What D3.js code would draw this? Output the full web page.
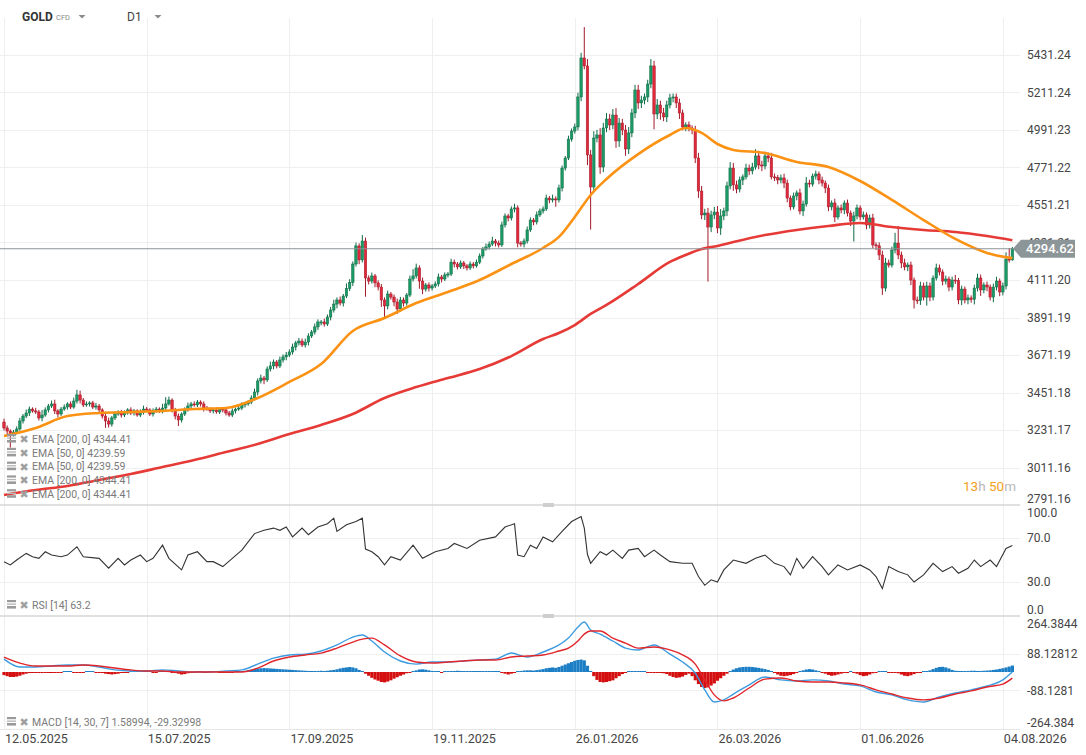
<!DOCTYPE html>
<html>
<head>
<meta charset="utf-8">
<script src="https://cdn.jsdelivr.net/npm/d3@7"></script>
<style>
  body { margin: 0; background: #fff; }
  svg { display: block; font-family: Roboto, "Noto Sans", sans-serif; }
</style>
</head>
<body>
<svg id="chart" width="1086" height="755"></svg>
<script>
// values
const dateLabels = ["12.05.2025", "15.07.2025", "17.09.2025", "19.11.2025", "26.01.2026", "26.03.2026", "01.06.2026", "04.08.2026"];
const dateTickIdx = [0, 45, 90, 135, 180, 225, 270, 315];

const priceTicks = [5431.24, 5211.24, 4991.23, 4771.22, 4551.21, 4331.21, 4111.20, 3891.19, 3671.19, 3451.18, 3231.17, 3011.16, 2791.16];
const rsiTicks = [100, 70, 30, 0];
const macdTickLabels = ["264.3844", "88.12812", "-88.1281", "-264.384"];

const lastPrice = 4294.62;
const firstOpen = 3278;

// daily closes, one per candle
const closes = [
  3243,3225,3208,3219,3237,3284,3313,3331,3354,3343,
  3337,3302,3319,3349,3372,3384,3343,3325,3354,3366,
  3384,3366,3401,3437,3407,3378,3384,3390,3366,3372,
  3349,3313,3284,3266,3302,3325,3337,3319,3331,3349,
  3331,3343,3319,3337,3354,3349,3325,3343,3354,3343,
  3360,3384,3407,3349,3313,3290,3325,3349,3372,3384,
  3378,3395,3384,3360,3354,3343,3349,3337,3354,3349,
  3331,3319,3343,3354,3360,3378,3384,3395,3419,3454,
  3519,3536,3525,3589,3607,3630,3607,3642,3660,3671,
  3689,3718,3742,3753,3730,3747,3783,3806,3836,3865,
  3865,3853,3894,3935,3970,3994,3976,4017,4061,4096,
  4205,4311,4229,4340,4123,4105,4135,4094,4070,3994,
  3959,4029,4011,3982,3941,3994,3976,4023,4117,4135,
  4182,4105,4058,4082,4064,4076,4088,4129,4117,4141,
  4146,4216,4205,4188,4211,4194,4182,4205,4194,4216,
  4252,4293,4305,4322,4340,4328,4317,4434,4487,4475,
  4528,4534,4328,4322,4340,4405,4463,4452,4493,4516,
  4528,4592,4581,4587,4581,4651,4768,4827,4938,4985,
  5009,5185,5414,5367,4845,4657,4944,4962,4774,5003,
  5056,5021,5079,4927,5032,4991,4880,4974,5091,5226,
  5150,5167,5185,5261,5367,5085,5138,5091,5068,5138,
  5179,5185,5150,5091,5009,5021,5003,4991,4827,4633,
  4493,4504,4422,4493,4510,4416,4487,4516,4663,4768,
  4669,4645,4698,4716,4768,4751,4774,4839,4786,4780,
  4839,4827,4716,4712,4698,4710,4680,4592,4540,4604,
  4622,4516,4557,4680,4674,4721,4733,4698,4680,4651,
  4540,4563,4481,4534,4522,4563,4504,4457,4487,4534,
  4481,4493,4434,4475,4317,4312,4258,4064,4211,4199,
  4287,4328,4258,4211,4188,4199,4111,3994,3990,4076,
  4011,4076,4011,4123,4182,4158,4105,4117,4070,4111,
  4108,3994,4058,3994,4006,3998,4064,4123,4053,4082,
  4070,4011,4070,4105,4041,4076,4234,4229,4294.62
];

// wick length above / below the body, price units
const wickUp = [
  20,15,10,12,15,18,12,20,15,10, 18,12,30,15,12,20,25,10,12,15,
  10,15,20,30,25,12,15,10,12,18, 12,10,15,20,12,15,10,12,15,10,
  15,12,10,15,20,12,10,15,12,10, 25,40,20,10,12,15,10,15,20,12,
  15,12,10,15,12,10,12,15,10,12, 10,12,15,10,12,15,12,10,15,20,
  15,20,12,15,25,15,12,20,15,18, 15,20,12,18,15,20,15,12,20,15,
  12,20,15,18,25,15,20,12,30,20, 15,20,15,35,20,15,20,12,15,18,
  15,20,12,15,20,18,15,12,20,40, 25,15,20,12,15,12,15,20,12,15,
  12,20,15,12,15,12,10,15,12,15, 15,12,20,15,25,12,15,20,15,12,
  15,25,15,12,15,20,15,12,20,15, 15,20,12,25,15,20,15,12,20,15,
  20,25,30,181,40,30,40,30,40,30, 35,30,35,40,30,25,30,35,25,30,
  30,25,20,25,40,30,35,25,30,25, 25,20,20,25,20,15,20,15,25,30,
  30,25,30,25,30,35,40,20,25,35, 30,25,20,15,25,20,25,40,30,25,
  25,20,30,20,15,20,25,20,15,20, 15,25,20,35,20,15,20,15,20,15,
  20,15,25,15,20,15,20,15,25,20, 15,20,15,20,25,15,20,25,30,20,
  20,60,100,20,25,15,20,15,20,25, 20,25,20,15,25,20,15,20,15,20,
  30,15,20,15,20,15,20,25,20,15, 20,15,20,25,15,20,40,65,10
];
const wickDn = [
  15,20,80,15,12,10,15,12,18,10, 12,15,20,10,15,12,18,20,12,10,
  15,12,10,15,20,12,10,15,12,15, 12,15,40,20,15,12,10,15,12,10,
  12,15,10,12,15,10,12,15,10,12, 15,12,10,15,20,35,15,12,10,15,
  10,12,15,20,10,12,15,10,12,15, 15,10,12,15,10,12,15,10,12,15,
  20,15,25,12,15,20,15,12,15,20, 12,15,20,15,12,15,20,12,15,18,
  20,15,12,20,15,25,15,20,12,15, 20,15,25,15,110,20,15,25,20,40,
  65,20,15,25,30,15,20,15,12,15, 15,45,30,15,20,15,12,15,20,12,
  15,12,20,15,12,18,15,12,15,10, 12,15,10,15,12,20,15,12,15,20,
  15,20,25,15,20,15,12,20,15,12, 15,12,20,15,40,15,20,15,12,15,
  15,20,25,20,60,250,30,25,40,30, 25,30,25,40,35,30,40,30,25,30,
  35,30,25,30,25,90,30,40,25,30, 20,25,30,35,20,25,20,25,30,40,
  25,30,320,30,25,30,40,25,30,20, 35,25,20,30,15,25,20,15,25,30,
  20,25,15,20,25,20,30,25,20,15, 25,20,30,15,20,15,20,25,20,30,
  25,20,30,15,20,25,20,30,120,20, 20,15,25,20,20,25,30,40,20,15,
  15,20,25,30,20,25,30,50,20,25, 20,50,25,20,15,20,25,20,25,20,
  20,25,30,20,25,20,30,20,35,20, 25,20,30,20,25,20,20,15,5
];

// moving averages, sampled at candle indices
const emaIdx = [0,10,20,30,40,50,60,70,80,90,100,110,120,130,140,150,160,170,175,180,185,190,200,210,215,220,225,230,240,250,260,270,280,290,300,310,318];
const ema50 = [3196,3243,3313,3331,3337,3343,3354,3360,3419,3513,3618,3812,3888,3976,4041,4111,4205,4299,4364,4481,4610,4704,4850,4962,5003,4974,4909,4874,4856,4804,4774,4692,4581,4463,4352,4270,4239.59];
const ema200 = [2850,2879,2903,2938,2973,3014,3055,3102,3149,3208,3261,3325,3419,3483,3536,3589,3665,3765,3800,3847,3912,3965,4088,4217,4258,4293,4311,4334,4375,4405,4428,4446,4422,4405,4393,4369,4344.41];

// RSI [14] as [candle index, value]
const rsiPoints = [
  [0,48.5],[2,45.5],[4,50],[7,56],[9,53],[11,51.5],[13,57.5],[15,54.5],[18,53],[20,54.5],
  [23,62],[25,53],[30,51.5],[33,42.5],[36,51.5],[38,45.5],[40,50],[43,54.5],[45,48.5],[47,51.5],
  [50,63.5],[52,51.5],[56,41],[58,54.5],[61,57.5],[64,48.5],[66,48.5],[69,44],[72,51.5],[75,59],
  [79,74],[82,77],[85,79],[87,77],[89,80],[91,71],[94,79],[96,73],[99,80],[102,83],
  [104,88],[105,76],[108,82],[111,85],[113,88],[114,60],[116,57.5],[118,53],[120,45.5],[122,53],
  [125,50],[129,63.5],[132,51.5],[134,54.5],[136,57.5],[140,60.5],[142,65],[146,60.5],[150,68],[155,71],
  [158,80],[161,83],[162,54.5],[164,53],[166,63.5],[168,60.5],[170,71],[173,66.5],[176,76],[179,85],
  [182,89.5],[183,79],[184,55],[185,47],[188,57.5],[190,54.5],[192,59],[195,51.5],[197,59],[200,60.5],
  [202,53],[205,59],[207,54.5],[210,48.5],[214,47],[217,47],[219,35],[221,27],[223,32],[225,30],
  [227,41],[230,50],[234,47],[237,51.5],[240,54.5],[243,47],[246,44],[248,36.5],[250,51.5],[252,42.5],
  [255,53],[258,44],[260,36.5],[263,45.5],[266,41],[270,45.5],[273,41],[275,35],[277,24],[279,44],
  [282,39.5],[285,36.5],[287,30],[290,36.5],[293,47],[296,39.5],[299,44],[301,38],[304,42.5],[306,50],
  [308,44],[311,50],[313,44],[316,60.5],[318,63.2]
];

// MACD [14, 30, 7]
const macdIdx = [0,5,10,15,20,25,30,35,40,45,50,55,60,65,70,75,80,85,90,95,100,105,110,113,116,120,125,130,135,140,145,150,155,160,165,170,175,178,181,183,185,188,192,196,200,205,210,214,218,221,224,227,230,235,240,245,250,255,260,265,270,275,280,285,290,295,300,305,310,315,318];
const macdLine = [62,24,24,29,34,34,24,10,5,5,10,5,0,0,5,10,38,67,82,86,101,130,168,178,149,96,53,38,48,48,53,58,62,91,72,96,130,163,216,240,202,182,149,115,106,130,86,48,-5,-86,-144,-134,-106,-62,-24,-38,-43,-38,-43,-58,-67,-96,-110,-134,-144,-120,-101,-86,-67,-38,1.58994];
const signalLine = [72,43,29,29,29,34,29,19,10,5,5,0,0,0,0,0,19,53,72,82,91,115,144,158,163,130,77,48,43,48,53,58,58,72,77,82,101,115,149,182,197,197,163,139,115,120,106,82,38,-38,-110,-139,-125,-77,-34,-29,-43,-48,-48,-53,-62,-86,-106,-125,-134,-125,-106,-91,-72,-58,-29.32998];
const macdHist = [
  -15,-20,-24,-24,-22,-18,-12,-8, -5,-4,-3,-5,-5,-4,-3,-2,
  -2,-3,-2,2,3,2,-2,-4,-3,-2,2,3,2,-2,-3,-5,
  -8,-10,-12,-10,-8,-5,-3,-2,2, 2,3,4,3,2,2,-2,-3,2,2,3,2,
  -2,-5,-8,-12,-10,-6,-3,-2, 2,2,-2,-2,2,3,2,-2,-3,-4,-3,-2,2,3,4,
  6,9,12,15,17,18,19,18,17,16,15,14,13,12,11,10,9,8,7,6,
  5,5,4,5,6,5,6,8,10,13,17,20, 22,24,22,18,10,2,
  -8,-18,-28,-36,-42,-48,-50,-46,-40,-32,-25,-18,-12,-6,-2,
  4,8,12,13,11,8,5,3,2,-2,2,2, 4,5,6,5,4,3,2,2,3,2,
  2,3,2,2,3,4,-3,-8,-12,-8, -4,2,5,7,8,8,7,9,11,14,
  18,20,22,20,24,30,36,42,48,54,58,60,56, 30,5,-20,-38,-48,-50,-48,-44,
  -40,-30,-20,-10,-4,2,3,4,3, 2,2,-2,-3,-5,-4,-3,-6,-10,
  -18,-24,-28,-26,-22,-14,-8, -20,-40,-58,-72,-77,-74,-65,-55,-42,-30,-18,-8,
  5,12,18,22,24,25,25,24,22,20,17,14,10,5, -5,-12,-18,-20,-18,-15,-10,-4,
  4,8,12,14,12,8,4,-2, -8,-14,-18,-16,-12,-8,-4,-2,
  2,-3,-8,-15,-20,-18,-12,-6,-3,2, 3,2,-2,-3,-3,-6,-12,-18,-20,
  -16,-10,-5,-2,2,4,8, 14,20,24,25,22,17,10,6,
  5,4,4,5,6,6,5,5,6,7,8,10, 12,15,18,22,26,31
];

const emaLegend = ["EMA [200, 0] 4344.41", "EMA [50, 0] 4239.59", "EMA [50, 0] 4239.59", "EMA [200, 0] 4344.41", "EMA [200, 0] 4344.41"];

// ---- layout ----
const plotRight = 1020;
const mainPane = { top: 18, bottom: 505 };
const rsiPane = { top: 505, bottom: 616 };
const macdPane = { top: 616, bottom: 729 };

const up = { fill: "#1b9a66", stroke: "#0e6a45" };
const down = { fill: "#e02a3b", stroke: "#a3192a" };

const svg = d3.select("#chart");

const x = d3.scaleLinear().domain([0, closes.length - 1]).range([4, 4 + (closes.length - 1) * 3.171]);
const y = d3.scaleLinear().domain([2791.16, 5431.24]).range([505, 55]);
const yRsi = d3.scaleLinear().domain([0, 100]).range([615, 505]);
const yMacd = d3.scaleLinear().domain([-264.384, 264.3844]).range([727, 617]);

// clip paths per pane
const defs = svg.append("defs");
[["clipMain", mainPane], ["clipRsi", rsiPane], ["clipMacd", macdPane]].forEach(([id, p]) => {
  defs.append("clipPath").attr("id", id)
    .append("rect").attr("x", 0).attr("y", p.top).attr("width", plotRight).attr("height", p.bottom - p.top);
});

// grid
const grid = svg.append("g").attr("stroke", "#efefef").attr("stroke-width", 1);
grid.selectAll(".vg").data(dateTickIdx).enter().append("line")
  .attr("x1", d => Math.round(x(d)) + 0.5).attr("x2", d => Math.round(x(d)) + 0.5)
  .attr("y1", mainPane.top).attr("y2", macdPane.bottom);
grid.selectAll(".hg").data(priceTicks.slice(0, -1)).enter().append("line")
  .attr("x1", 0).attr("x2", plotRight)
  .attr("y1", d => Math.round(y(d)) + 0.5).attr("y2", d => Math.round(y(d)) + 0.5);
grid.selectAll(".rg").data([70, 30]).enter().append("line")
  .attr("x1", 0).attr("x2", plotRight)
  .attr("y1", d => Math.round(yRsi(d)) + 0.5).attr("y2", d => Math.round(yRsi(d)) + 0.5);
grid.selectAll(".mg").data([88.12812, -88.1281]).enter().append("line")
  .attr("x1", 0).attr("x2", plotRight)
  .attr("y1", d => Math.round(yMacd(d)) + 0.5).attr("y2", d => Math.round(yMacd(d)) + 0.5);

// pane separators
svg.append("g").attr("stroke", "#d6d6d6").attr("stroke-width", 1.5)
  .selectAll("line").data([rsiPane.top, macdPane.top]).enter().append("line")
  .attr("x1", 0).attr("x2", plotRight).attr("y1", d => d).attr("y2", d => d);
svg.append("line").attr("x1", 0).attr("x2", plotRight).attr("y1", 729.5).attr("y2", 729.5)
  .attr("stroke", "#e6e6e6");
svg.append("g").attr("fill", "#cfcfcf")
  .selectAll("rect").data([rsiPane.top, macdPane.top]).enter().append("rect")
  .attr("x", 543).attr("y", d => d - 2).attr("width", 11).attr("height", 4);

// candles
const candles = closes.map((c, i) => {
  const o = i === 0 ? firstOpen : closes[i - 1];
  return { i, o, c, h: Math.max(o, c) + wickUp[i], l: Math.min(o, c) - wickDn[i] };
});
const cg = svg.append("g").attr("clip-path", "url(#clipMain)");
const bodyW = 2.5;
cg.selectAll(".wick").data(candles).enter().append("line")
  .attr("x1", d => x(d.i)).attr("x2", d => x(d.i))
  .attr("y1", d => y(d.h)).attr("y2", d => y(d.l))
  .attr("stroke", d => d.c >= d.o ? up.stroke : down.stroke).attr("stroke-width", 1);
cg.selectAll(".body").data(candles).enter().append("rect")
  .attr("x", d => x(d.i) - bodyW / 2).attr("width", bodyW)
  .attr("y", d => y(Math.max(d.o, d.c)))
  .attr("height", d => Math.max(1, Math.abs(y(d.o) - y(d.c))))
  .attr("fill", d => d.c >= d.o ? up.fill : down.fill)
  .attr("stroke", d => d.c >= d.o ? up.stroke : down.stroke).attr("stroke-width", 0.5);

// moving averages
const maLine = d3.line().x(d => x(d[0])).y(d => y(d[1])).curve(d3.curveMonotoneX);
cg.append("path").datum(d3.zip(emaIdx, ema200)).attr("d", maLine)
  .attr("fill", "none").attr("stroke", "#e53a36").attr("stroke-width", 2.6);
cg.append("path").datum(d3.zip(emaIdx, ema50)).attr("d", maLine)
  .attr("fill", "none").attr("stroke", "#fb9213").attr("stroke-width", 2.6);

// last price line
svg.append("line").attr("x1", 0).attr("x2", 1013)
  .attr("y1", y(lastPrice)).attr("y2", y(lastPrice))
  .attr("stroke", "#8e9296").attr("stroke-width", 1.2);

// right axis labels
function clampLabel(v, top, bottom) { return Math.min(bottom - 6, Math.max(top + 8, v)); }
const axisTxt = svg.append("g").attr("fill", "#454545").attr("font-size", 12);
axisTxt.selectAll(".pl").data(priceTicks).enter().append("text")
  .attr("x", 1027).attr("y", d => clampLabel(y(d), mainPane.top, mainPane.bottom)).attr("dy", "0.36em")
  .text(d => d3.format(".2f")(d));
axisTxt.selectAll(".rl").data(rsiTicks).enter().append("text")
  .attr("x", 1027).attr("y", d => clampLabel(yRsi(d), rsiPane.top, rsiPane.bottom)).attr("dy", "0.36em")
  .text(d => d3.format(".1f")(d));
axisTxt.selectAll(".ml").data(macdTickLabels).enter().append("text")
  .attr("x", 1027).attr("y", d => clampLabel(yMacd(+d), macdPane.top, macdPane.bottom)).attr("dy", "0.36em")
  .text(d => d);

// price tag, drawn over the hidden 4331.21 label as in the reference
const ty = y(lastPrice);
svg.append("path")
  .attr("d", `M1013,${ty} L1021,${ty - 9} L1075,${ty - 9} L1075,${ty + 9} L1021,${ty + 9} Z`)
  .attr("fill", "#8c9598");
svg.append("text").attr("x", 1026).attr("y", ty).attr("dy", "0.36em")
  .attr("fill", "#fff").attr("font-size", 13).attr("font-weight", 500)
  .text(d3.format(".2f")(lastPrice));

// date labels
svg.append("g").attr("fill", "#454545").attr("font-size", 12.5)
  .selectAll("text").data(dateTickIdx).enter().append("text")
  .attr("x", d => x(d) + 1).attr("y", 738).attr("dy", "0.36em")
  .text((d, k) => dateLabels[k]);

// RSI
svg.append("path").datum(rsiPoints).attr("clip-path", "url(#clipRsi)")
  .attr("d", d3.line().x(d => x(d[0])).y(d => yRsi(d[1])))
  .attr("fill", "none").attr("stroke", "#333").attr("stroke-width", 1.1);

// MACD histogram and lines
const mg = svg.append("g").attr("clip-path", "url(#clipMacd)");
const y0 = yMacd(0);
mg.selectAll(".hist").data(macdHist).enter().append("rect")
  .attr("x", (d, i) => x(i) - 1.6).attr("width", 3.2)
  .attr("y", d => d >= 0 ? Math.min(yMacd(d), y0 - 1) : y0)
  .attr("height", d => Math.max(1, Math.abs(yMacd(d) - y0)))
  .attr("fill", d => d >= 0 ? "#1c7ec5" : "#d40f0f");
const macdPath = d3.line().x(d => x(d[0])).y(d => yMacd(d[1])).curve(d3.curveMonotoneX);
mg.append("path").datum(d3.zip(macdIdx, macdLine)).attr("d", macdPath)
  .attr("fill", "none").attr("stroke", "#3d9be0").attr("stroke-width", 1.4);
mg.append("path").datum(d3.zip(macdIdx, signalLine)).attr("d", macdPath)
  .attr("fill", "none").attr("stroke", "#e0262b").attr("stroke-width", 1.4);

// legends
function legendRow(yy, label) {
  const g = svg.append("g");
  g.append("rect").attr("x", 7).attr("y", yy - 5).attr("width", 9).attr("height", 2.2).attr("fill", "#9a9a9a");
  g.append("rect").attr("x", 7).attr("y", yy - 1.5).attr("width", 9).attr("height", 1.3).attr("fill", "#b5b5b5");
  g.append("rect").attr("x", 7).attr("y", yy + 1).attr("width", 9).attr("height", 2.6).attr("fill", "#9a9a9a");
  g.append("text").attr("x", 19.5).attr("y", yy).attr("dy", "0.36em")
    .attr("font-size", 11).attr("font-weight", 700).attr("fill", "#a0a0a0")
    .attr("font-family", "DejaVu Sans").text("\u2716");
  g.append("text").attr("x", 32).attr("y", yy).attr("dy", "0.36em")
    .attr("font-size", 10.5).attr("fill", "#7a7a7a").text(label);
}
emaLegend.forEach((t, k) => legendRow(439 + k * 13.8, t));
legendRow(605, "RSI [14] 63.2");
legendRow(722, "MACD [14, 30, 7] 1.58994, -29.32998");

// countdown
const cd = svg.append("text").attr("x", 963).attr("y", 486).attr("dy", "0.36em").attr("font-size", 13.5);
[["13", "#f5a11c"], ["h ", "#b8b8b8"], ["50", "#f5a11c"], ["m", "#b8b8b8"]].forEach(([t, c]) =>
  cd.append("tspan").attr("fill", c).text(t));

// header
const hd = svg.append("g");
hd.append("text").attr("x", 22).attr("y", 17).attr("dy", "0.36em")
  .attr("font-size", 12).attr("font-weight", 700).attr("fill", "#333").text("GOLD");
hd.append("text").attr("x", 56).attr("y", 17.5).attr("dy", "0.36em")
  .attr("font-size", 7.5).attr("fill", "#8a8a8a").text("CFD");
hd.append("text").attr("x", 127).attr("y", 17).attr("dy", "0.36em")
  .attr("font-size", 12).attr("fill", "#444").text("D1");
hd.selectAll("path").data([82, 158]).enter().append("path")
  .attr("d", d => `M${d - 3.5},15 L${d + 3.5},15 L${d},18.5 Z`).attr("fill", "#8a8a8a");
</script>
</body>
</html>
